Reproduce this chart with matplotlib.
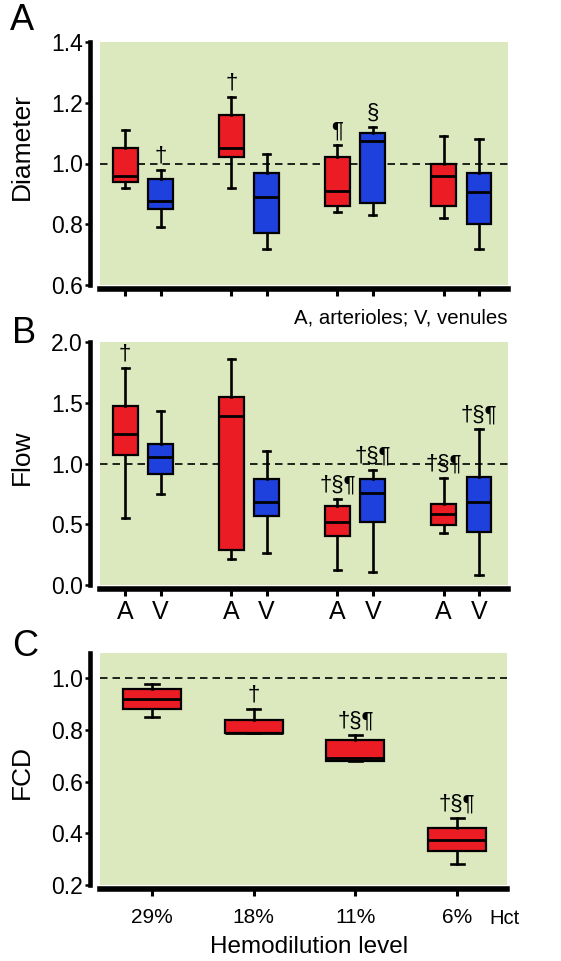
import matplotlib
matplotlib.use('Agg')
import matplotlib.pyplot as plt

plt.rcParams['font.family'] = ['Liberation Sans', 'DejaVu Sans']

# ---------------- data ----------------
vessel_labels = ['A', 'V', 'A', 'V', 'A', 'V', 'A', 'V']
hct_labels = ['29%', '18%', '11%', '6%']

diam_whishi = [1.11, 0.98, 1.22, 1.03, 1.06, 1.12, 1.09, 1.08]
diam_q3 = [1.05, 0.95, 1.16, 0.97, 1.02, 1.10, 1.00, 0.97]
diam_med = [0.96, 0.875, 1.05, 0.89, 0.91, 1.075, 0.96, 0.905]
diam_q1 = [0.94, 0.85, 1.02, 0.77, 0.86, 0.87, 0.86, 0.80]
diam_whislo = [0.92, 0.79, 0.92, 0.72, 0.84, 0.83, 0.82, 0.72]
diam_marks = ['', '†', '†', '', '¶', '§', '', '']

flow_whishi = [1.79, 1.43, 1.86, 1.10, 0.71, 0.95, 0.88, 1.28]
flow_q3 = [1.47, 1.16, 1.55, 0.87, 0.65, 0.87, 0.67, 0.89]
flow_med = [1.24, 1.05, 1.39, 0.685, 0.515, 0.76, 0.585, 0.685]
flow_q1 = [1.07, 0.915, 0.29, 0.565, 0.405, 0.52, 0.49, 0.44]
flow_whislo = [0.55, 0.75, 0.21, 0.26, 0.12, 0.11, 0.425, 0.08]
flow_marks = ['†', '', '', '', '†§¶', '†§¶', '†§¶', '†§¶']

fcd_whishi = [0.98, 0.88, 0.78, 0.46]
fcd_q3 = [0.96, 0.84, 0.76, 0.42]
fcd_med = [0.92, 0.79, 0.69, 0.375]
fcd_q1 = [0.88, 0.79, 0.68, 0.33]
fcd_whislo = [0.85, 0.79, 0.68, 0.28]
fcd_marks = ['', '†', '†§¶', '†§¶']

# ---------------- style ----------------
GREEN = '#DCE9BF'
RED = '#EC1C24'
BLUE = '#1E40DC'
W, H = 561, 961

fig = plt.figure(figsize=(W / 100, H / 100), dpi=100)


def make_axes(left, top, right, bottom):
    return fig.add_axes([left / W, 1 - bottom / H, (right - left) / W, (bottom - top) / H])


def style_axes(ax):
    ax.set_facecolor(GREEN)
    for s in ('top', 'right'):
        ax.spines[s].set_visible(False)
    ax.spines['left'].set_position(('outward', 7.2))
    ax.spines['bottom'].set_position(('outward', 2.8))
    ax.spines['left'].set_linewidth(3.3)
    ax.spines['bottom'].set_linewidth(4.0)
    ax.tick_params(axis='y', direction='out', length=3.6, width=1.8, labelsize=16.5, pad=1.5)
    ax.tick_params(axis='x', direction='out', length=5, width=2.2, pad=3)
    ax.axhline(1.0, color='black', lw=1.2, ls=(0, (4.5, 3)), zorder=1)


def draw_boxes(ax, positions, whislo, q1, med, q3, whishi, colors, width, capw, marks, fs):
    stats = [dict(whislo=a, q1=b, med=c, q3=d, whishi=e, fliers=[])
             for a, b, c, d, e in zip(whislo, q1, med, q3, whishi)]
    bp = ax.bxp(stats, positions=positions, widths=width, capwidths=capw,
                patch_artist=True, showfliers=False, manage_ticks=False,
                boxprops=dict(linewidth=1.6, edgecolor='black'),
                medianprops=dict(color='black', linewidth=2.0),
                whiskerprops=dict(color='black', linewidth=1.9),
                capprops=dict(color='black', linewidth=1.9), zorder=3)
    for patch, c in zip(bp['boxes'], colors):
        patch.set_facecolor(c)
    for x, top, m in zip(positions, whishi, marks):
        if m:
            ax.annotate(m, (x, top), xytext=(0, 2.5), textcoords='offset points',
                        ha='center', va='bottom', fontsize=fs, zorder=4)


pair_pos = [(i // 2) * 3 + (i % 2) for i in range(len(vessel_labels))]
pair_colors = [RED if v == 'A' else BLUE for v in vessel_labels]

# ---- Panel A ----
axA = make_axes(100, 42, 508, 285)
style_axes(axA)
draw_boxes(axA, pair_pos, diam_whislo, diam_q1, diam_med, diam_q3, diam_whishi,
           pair_colors, 0.7, 0.2, diam_marks, 16)
axA.set_xlim(-0.71, 10.82)
axA.set_ylim(0.6, 1.4)
axA.set_yticks([0.6, 0.8, 1.0, 1.2, 1.4])
axA.set_xticks(pair_pos)
axA.set_xticklabels([])
axA.set_ylabel('Diameter', fontsize=19)
axA.yaxis.set_label_coords(-0.163, 0.568)

# ---- Panel B ----
axB = make_axes(100, 342, 508, 585)
style_axes(axB)
draw_boxes(axB, pair_pos, flow_whislo, flow_q1, flow_med, flow_q3, flow_whishi,
           pair_colors, 0.7, 0.2, flow_marks, 16)
axB.set_xlim(-0.71, 10.82)
axB.set_ylim(0.0, 2.0)
axB.set_yticks([0.0, 0.5, 1.0, 1.5, 2.0])
axB.set_xticks(pair_pos)
axB.set_xticklabels(vessel_labels, fontsize=18)
axB.set_ylabel('Flow', fontsize=19)
axB.yaxis.set_label_coords(-0.163, 0.527)

# ---- Panel C ----
axC = make_axes(100, 652.5, 507, 885)
style_axes(axC)
cpos = list(range(len(hct_labels)))
draw_boxes(axC, cpos, fcd_whislo, fcd_q1, fcd_med, fcd_q3, fcd_whishi,
           [RED] * len(cpos), 0.57, 0.13, fcd_marks, 16)
axC.set_xlim(-0.51, 3.49)
axC.set_ylim(0.2, 1.1)
axC.set_yticks([0.2, 0.4, 0.6, 0.8, 1.0])
axC.set_xticks(cpos)
axC.set_xticklabels(hct_labels, fontsize=15)
axC.tick_params(axis='x', pad=8.5)
axC.set_ylabel('FCD', fontsize=19)
axC.yaxis.set_label_coords(-0.163, 0.486)

# ---- figure texts ----
fig.text(10 / W, 1 - 20 / H, 'A', fontsize=26, ha='left', va='center')
fig.text(12 / W, 1 - 334 / H, 'B', fontsize=26, ha='left', va='center')
fig.text(12 / W, 1 - 646 / H, 'C', fontsize=26, ha='left', va='center')
fig.text(508 / W, 1 - 318 / H, 'A, arterioles; V, venules', fontsize=14.7, ha='right', va='center')
fig.text(489 / W, 1 - 918 / H, 'Hct', fontsize=14.5, ha='left', va='center')
fig.text(309 / W, 1 - 947 / H, 'Hemodilution level', fontsize=17.5, ha='center', va='center')

fig.savefig('out.png', dpi=100, facecolor='white')
